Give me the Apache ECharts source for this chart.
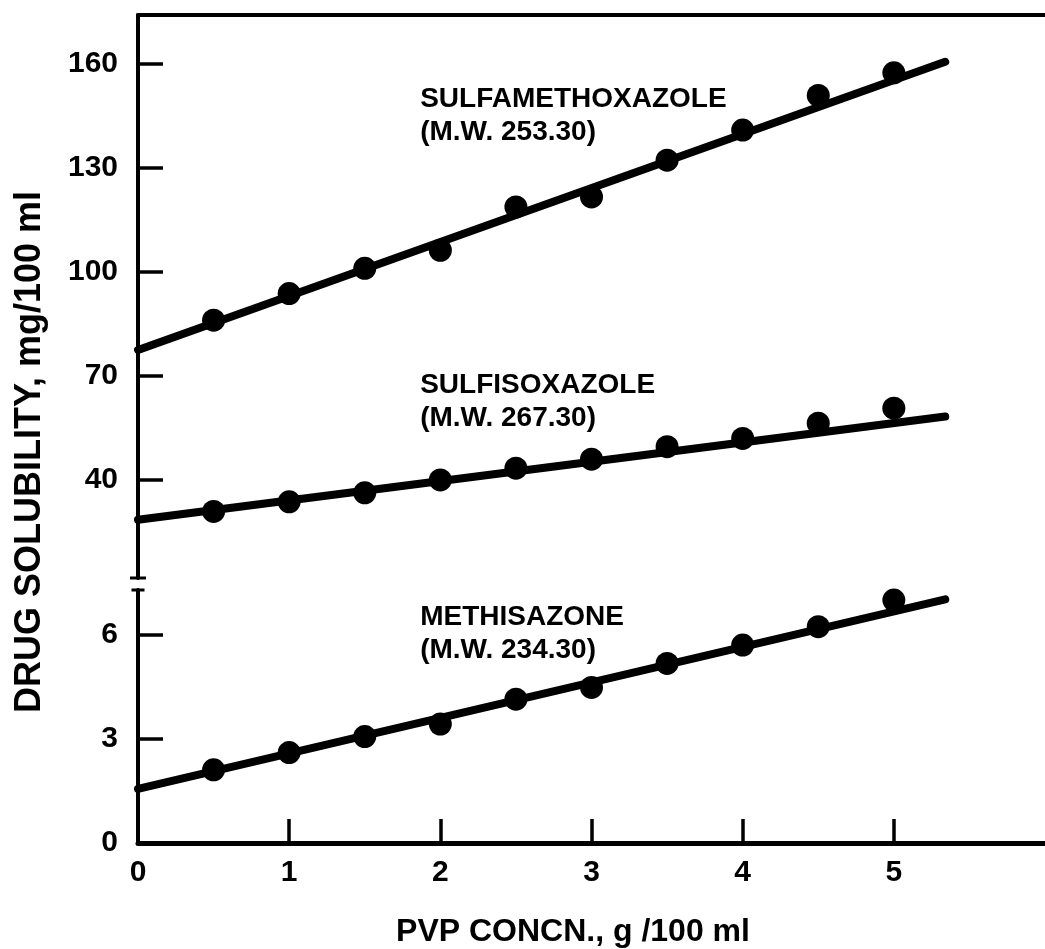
<!DOCTYPE html>
<html>
<head>
<meta charset="utf-8">
<title>Drug solubility vs PVP concentration</title>
<script src="https://cdn.jsdelivr.net/npm/echarts@6/dist/echarts.min.js"></script>
<style>
  html, body { margin: 0; padding: 0; background: #ffffff; }
  #chart { width: 1045px; height: 949px; }
</style>
</head>
<body>
<div id="chart"></div>
<script>
// PVP concentration (g/100 ml) at which solubility was measured
const pvpConc = [0.5, 1, 1.5, 2, 2.5, 3, 3.5, 4, 4.5, 5];

// Measured solubilities, mg/100 ml
const sulfamethoxazole = [85.9, 93.6, 100.9, 106.1, 118.6, 121.5, 132.1, 140.8, 150.8, 157.3];
const sulfisoxazole    = [30.7, 33.5, 36.1, 39.8, 43.2, 45.8, 49.4, 51.8, 56.2, 60.5];
const methisazone      = [2.11, 2.61, 3.07, 3.43, 4.15, 4.49, 5.18, 5.71, 6.24, 7.01];

// Straight-line fits: values at the two ends of each fitted line
const fitX = [0, 5.34];
const sulfamethoxazoleFit = [77.3, 160.5];
const sulfisoxazoleFit    = [28.3, 58.1];
const methisazoneFit      = [1.56, 7.03];

// Drug captions and where their top-left corner sits (data units)
const drugNames = ['SULFAMETHOXAZOLE', 'SULFISOXAZOLE', 'METHISAZONE'];
const drugMW    = ['(M.W. 253.30)', '(M.W. 267.30)', '(M.W. 234.30)'];
const captionX  = [1.87, 1.87, 1.87];
const captionY  = [154.2, 71.8, 6.98];

// Tick labels for the broken y axis and for x
const upperTicks = [40, 70, 100, 130, 160];
const lowerTicks = [0, 3, 6];
const lowerTickMarks = [3, 6];
const xTicks = [0, 1, 2, 3, 4, 5];
const xTickMarks = [1, 2, 3, 4, 5];

const FONT = '"Liberation Sans", Arial, Helvetica, sans-serif';
const INK = '#000000';

function pairs(xs, ys) { return xs.map((x, i) => [x, ys[i]]); }

const tickLabelStyle = { color: INK, fontFamily: FONT, fontWeight: 'bold', fontSize: 30 };

const chart = echarts.init(document.getElementById('chart'), null, { renderer: 'canvas' });

function pointsSeries(name, data, axisIdx) {
  return {
    name, type: 'scatter', xAxisIndex: axisIdx, yAxisIndex: axisIdx,
    data: pairs(pvpConc, data), symbol: 'circle', symbolSize: 23,
    itemStyle: { color: INK, opacity: 1 }, z: 4, silent: true
  };
}
function fitSeries(name, data, axisIdx) {
  return {
    name: name + ' fit', type: 'line', xAxisIndex: axisIdx, yAxisIndex: axisIdx,
    data: pairs(fitX, data), showSymbol: false, symbol: 'none',
    lineStyle: { color: INK, width: 8, cap: 'round', opacity: 1 }, z: 3, silent: true
  };
}
function captionSeries(i, axisIdx) {
  return {
    type: 'scatter', xAxisIndex: axisIdx, yAxisIndex: axisIdx,
    data: [[captionX[i], captionY[i]]], symbol: 'circle', symbolSize: 1,
    itemStyle: { color: '#ffffff', opacity: 0 }, silent: true,
    label: {
      show: true, position: [0, 0], align: 'left', verticalAlign: 'top',
      formatter: drugNames[i] + '\n' + drugMW[i], opacity: 1,
      color: INK, fontFamily: FONT, fontWeight: 'bold', fontSize: 28, lineHeight: 33
    }
  };
}

const option = {
  backgroundColor: '#ffffff',
  animation: false,
  grid: [
    { left: 138, right: -4, top: 15, height: 563 },
    { left: 138, right: -4, top: 590, height: 253 }
  ],
  xAxis: [
    {
      gridIndex: 0, type: 'value', position: 'top', min: 0, max: 6,
      axisLine: { show: true, onZero: false, lineStyle: { color: INK, width: 4 } },
      axisTick: { show: false }, axisLabel: { show: false }, splitLine: { show: false }
    },
    {
      gridIndex: 1, type: 'value', position: 'bottom', min: 0, max: 6,
      axisLine: { show: true, onZero: false, lineStyle: { color: INK, width: 5 } },
      axisTick: { show: true, inside: true, length: 24, customValues: xTickMarks,
                  lineStyle: { color: INK, width: 3.5 } },
      axisLabel: Object.assign({ margin: 15, customValues: xTicks }, tickLabelStyle),
      splitLine: { show: false }
    }
  ],
  yAxis: [
    {
      gridIndex: 0, type: 'value', min: 11.5, max: 174,
      axisLine: { show: true, onZero: false, symbol: ['rect', 'none'], symbolSize: [16, 3],
                  lineStyle: { color: INK, width: 4 } },
      axisTick: { show: true, inside: true, length: 25, customValues: upperTicks,
                  lineStyle: { color: INK, width: 3.5 } },
      axisLabel: Object.assign({ margin: 20, customValues: upperTicks }, tickLabelStyle),
      splitLine: { show: false }
    },
    {
      gridIndex: 1, type: 'value', min: 0, max: 7.3,
      axisLine: { show: true, onZero: false, symbol: ['none', 'rect'], symbolSize: [13, 3],
                  lineStyle: { color: INK, width: 4 } },
      axisTick: { show: true, inside: true, length: 25, customValues: lowerTickMarks,
                  lineStyle: { color: INK, width: 3.5 } },
      axisLabel: Object.assign({ margin: 20, customValues: lowerTicks }, tickLabelStyle),
      splitLine: { show: false }
    }
  ],
  graphic: [
    {
      type: 'text', x: 30, y: 452, rotation: Math.PI / 2, silent: true,
      style: { text: 'DRUG SOLUBILITY, mg/100 ml', fill: INK, align: 'center', verticalAlign: 'middle',
               font: 'bold 36px ' + FONT }
    },
    {
      type: 'text', x: 573, y: 932, silent: true,
      style: { text: 'PVP CONCN., g /100 ml', fill: INK, align: 'center', verticalAlign: 'middle',
               font: 'bold 32px ' + FONT }
    }
  ],
  series: [
    fitSeries('Sulfamethoxazole', sulfamethoxazoleFit, 0),
    pointsSeries('Sulfamethoxazole', sulfamethoxazole, 0),
    fitSeries('Sulfisoxazole', sulfisoxazoleFit, 0),
    pointsSeries('Sulfisoxazole', sulfisoxazole, 0),
    fitSeries('Methisazone', methisazoneFit, 1),
    pointsSeries('Methisazone', methisazone, 1),
    captionSeries(0, 0),
    captionSeries(1, 0),
    captionSeries(2, 1)
  ]
};

chart.setOption(option);
</script>
</body>
</html>
